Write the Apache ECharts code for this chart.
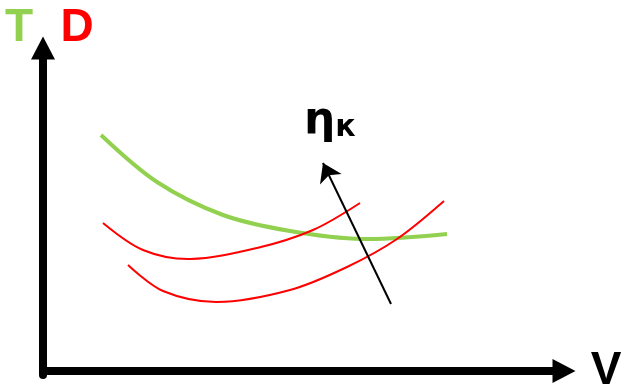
<!DOCTYPE html>
<html>
<head>
<meta charset="utf-8">
<script src="https://cdn.jsdelivr.net/npm/echarts@6/dist/echarts.min.js"></script>
<style>
html, body { margin: 0; padding: 0; background: #fff; }
#main { width: 622px; height: 385px; }
</style>
</head>
<body>
<div id="main"></div>
<script>
// 曲线数据 (x = V, y = T / D)
var greenT = [[58, 236], [114, 189], [180, 156], [247, 140], [320, 132], [404, 137]];
var redD1 = [[60, 148], [100, 121], [147, 112], [214, 123], [270, 141], [317, 168]];
var redD2 = [[85, 106], [120, 80], [174, 69], [247, 81], [304, 104], [354, 132], [401, 170]];
// ηк 增大方向
var etaArrow = [[348, 67], [280, 208]];

var xMax = 521;
var yMin = -4, yMax = 323;

var chart = echarts.init(document.getElementById('main'));

var font = 'bold 46px "Liberation Sans", Arial, sans-serif';

// 用 custom 画平滑曲线 (line 的 smooth 会在数据点处出现折角)
function curve(data, color, width) {
    return {
        type: 'custom',
        data: data,
        encode: { x: 0, y: 1 },
        renderItem: function (params, api) {
            if (params.dataIndexInside !== 0) return;
            var pts = [];
            for (var i = 0; i < params.dataInsideLength; i++) {
                pts.push(api.coord([api.value(0, i), api.value(1, i)]));
            }
            return {
                type: 'polyline',
                shape: { points: pts, smooth: 0.33 },
                style: { stroke: color, lineWidth: width, fill: null }
            };
        }
    };
}

var opt = {
    animation: false,
    grid: { left: 43, right: 58, top: 48, bottom: 10 },
    xAxis: {
        type: 'value', min: 0, max: xMax,
        axisLine: {
            onZero: true,
            symbol: ['none', 'triangle'],
            symbolSize: [24, 23],
            lineStyle: { color: '#000', width: 8 }
        },
        axisTick: { show: false },
        axisLabel: { show: false },
        splitLine: { show: false }
    },
    yAxis: {
        type: 'value', min: yMin, max: yMax,
        axisLine: {
            onZero: true,
            symbol: ['none', 'triangle'],
            symbolSize: [24, 23],
            lineStyle: { color: '#000', width: 8 }
        },
        axisTick: { show: false },
        axisLabel: { show: false },
        splitLine: { show: false }
    },
    series: [
        curve(greenT, '#92D050', 4),
        curve(redD1, '#FF0000', 2),
        curve(redD2, '#FF0000', 2),
        {
            type: 'lines', coordinateSystem: 'cartesian2d',
            symbol: ['none', 'arrow'], symbolSize: 18,
            lineStyle: { color: '#000', width: 2, opacity: 1 },
            data: [{ coords: etaArrow }]
        }
    ],
    graphic: [
        { type: 'text', x: 19, y: 28, style: { text: 'T', font: font, fill: '#92D050', align: 'center', verticalAlign: 'middle' } },
        { type: 'text', x: 77, y: 28, style: { text: 'D', font: font, fill: '#FF0000', align: 'center', verticalAlign: 'middle' } },
        { type: 'text', x: 606, y: 371, style: { text: 'V', font: font, fill: '#000', align: 'center', verticalAlign: 'middle' } },
        {
            type: 'text', x: 304, y: 100,
            style: {
                text: '{a|η}{b|к}',
                rich: {
                    a: { font: 'bold 44px "DejaVu Sans", sans-serif', fill: '#000', verticalAlign: 'bottom' },
                    b: { font: 'bold 30px "DejaVu Sans", sans-serif', fill: '#000', verticalAlign: 'bottom', padding: [0, 0, 1, 0] }
                }
            }
        }
    ]
};
chart.setOption(opt);
</script>
</body>
</html>
